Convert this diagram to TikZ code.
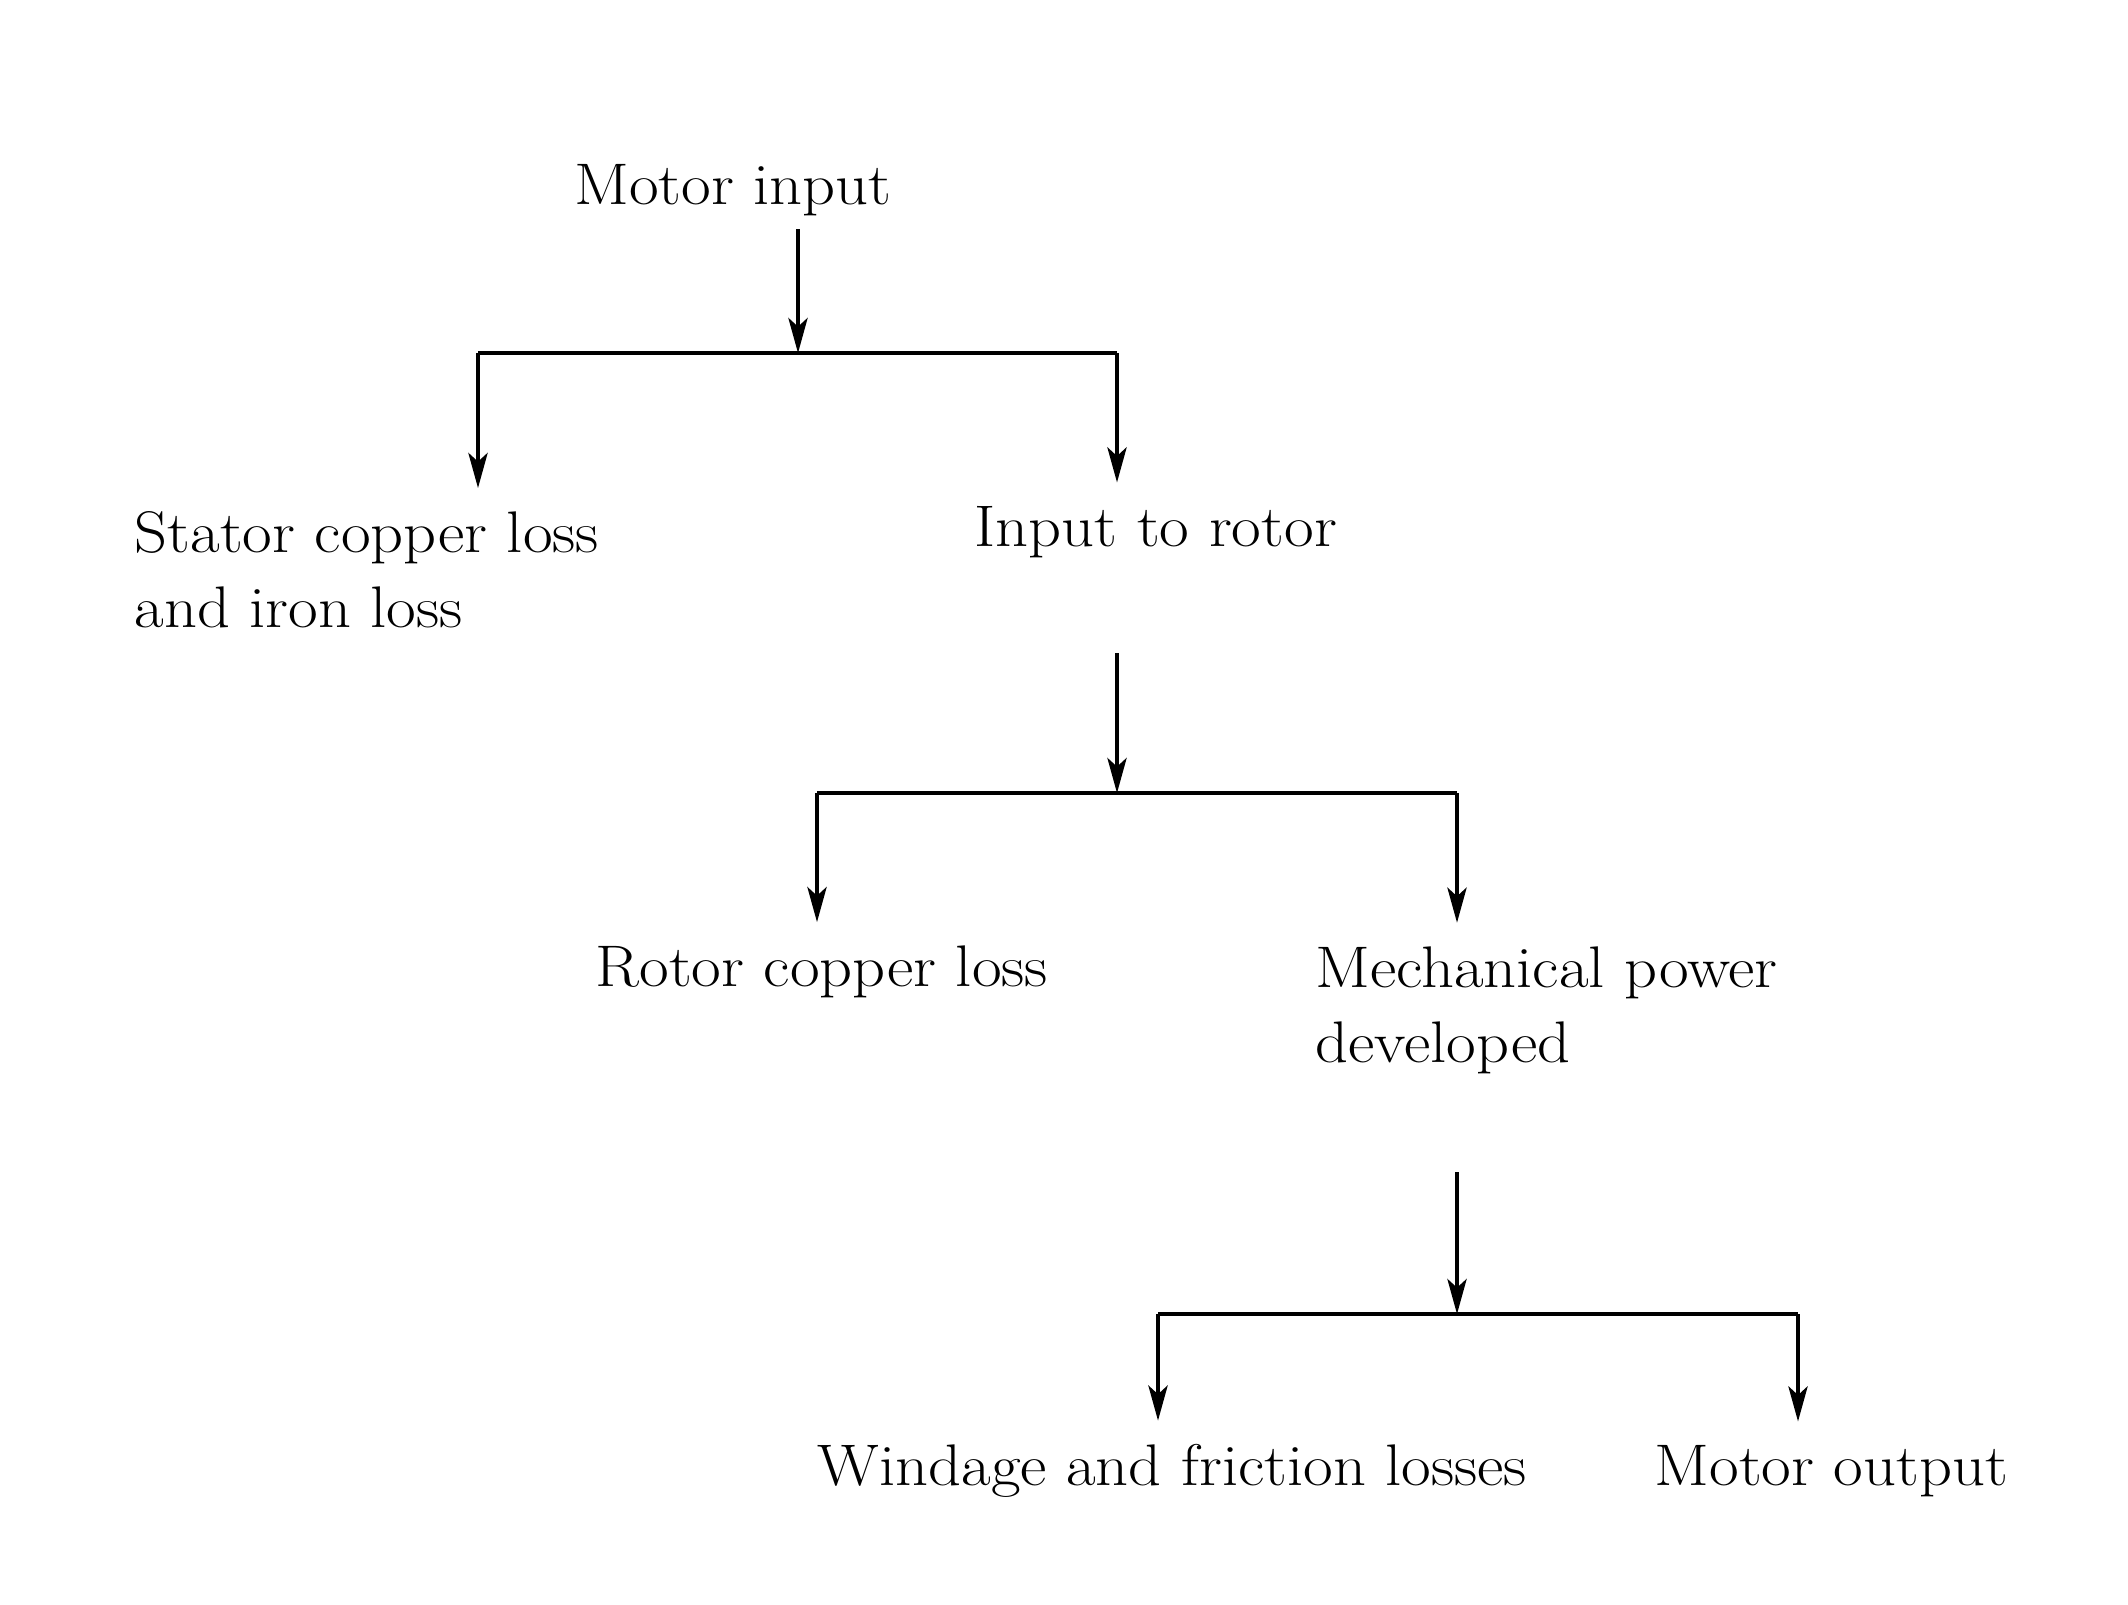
\documentclass[tikz,border=0pt]{standalone}
\usepackage{fontspec}
\setmainfont{Latin Modern Roman}[FakeStretch=1.1]
\usepackage{tikz}
\usetikzlibrary{arrows.meta,positioning}

\begin{document}
\begin{tikzpicture}[every node/.style={font=\fontsize{16.7}{21.3}\selectfont},
    lbl/.style={anchor=west,align=left,inner xsep=0pt},
    arr/.style={-{Stealth[length=10pt,width=5.5pt,inset=2.5pt]}},
    drop/.style={arr,shorten >=3pt},
    line width=.9pt]
  \useasboundingbox (0,0) rectangle (21.28,-16.04);
  \node (input) at (7.33,-1.90) {Motor input};
  \node[lbl] (stator) at (1.33,-5.70) {Stator copper loss\\and iron loss};
  \node[lbl] (rotorin) at (9.73,-5.32) {Input to rotor};
  \node[lbl] (rcu) at (5.94,-9.72) {Rotor copper loss};
  \node[lbl] (mech) at (13.14,-10.10) {Mechanical power\\developed};
  \node[lbl] (wind) at (8.16,-14.71) {Windage and friction losses};
  \node[lbl] (output) at (16.53,-14.71) {Motor output};
  % splits
  \coordinate (j1) at (7.98,-3.53);
  \coordinate (b1l) at (4.78,-3.53);
  \coordinate (b1r) at (11.17,-3.53);
  \coordinate (a2) at (11.17,-6.53);
  \coordinate (j2) at (11.17,-7.93);
  \coordinate (b2l) at (8.17,-7.93);
  \coordinate (b2r) at (14.57,-7.93);
  \coordinate (a3) at (14.57,-11.72);
  \coordinate (j3) at (14.57,-13.14);
  \coordinate (b3l) at (11.58,-13.14);
  \coordinate (b3r) at (17.98,-13.14);
  \draw[arr] (input.south -| j1) -- (j1);
  \draw (b1l) -- (b1r);
  \draw[drop] (b1l) -- (b1l |- stator.north);
  \draw[drop] (b1r) -- (b1r |- rotorin.north);
  \draw[arr] (a2) -- (j2);
  \draw (b2l) -- (b2r);
  \draw[drop] (b2l) -- (b2l |- rcu.north);
  \draw[drop] (b2r) -- (b2r |- mech.north);
  \draw[arr] (a3) -- (j3);
  \draw (b3l) -- (b3r);
  \draw[drop] (b3l) -- (b3l |- wind.north);
  \draw[drop] (b3r) -- (b3r |- output.north);
\end{tikzpicture}
\end{document}
